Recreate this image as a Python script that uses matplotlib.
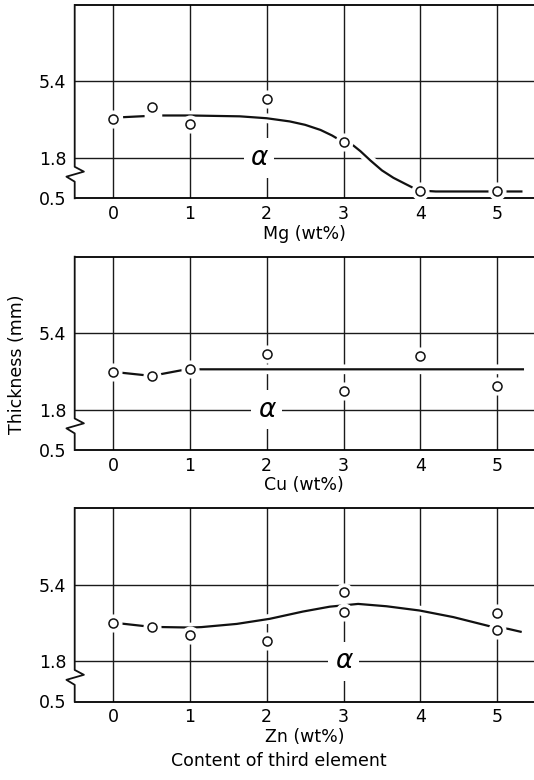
import numpy as np
import matplotlib
matplotlib.use("Agg")
import matplotlib.pyplot as plt
import matplotlib.patheffects as pe

plt.rcParams['font.family'] = ['DejaVu Sans']

# measured thickness (mm) vs. content of third element (wt%)
mg_x = [0, 0.5, 1, 2, 3, 4, 5]
mg_y = [3.63, 4.18, 3.41, 4.59, 2.54, 0.75, 0.73]
cu_x = [0, 0.5, 1, 2, 3, 4, 5]
cu_y = [3.58, 3.39, 3.73, 4.44, 2.67, 4.32, 2.93]
zn_x = [0, 0.5, 1, 2, 3, 3, 5, 5]
zn_y = [3.61, 3.41, 3.04, 2.77, 5.06, 4.10, 4.05, 3.27]

# hand drawn trend curves (nan = pen lifted)
mg_cx = [0.13, 0.41, np.nan, 0.64, 1.0, 1.65, 2.0, 2.3, 2.5, 2.7, 2.85, 3.0,
         3.12, 3.22, 3.35, 3.5, 3.65, 3.8, 3.92, 4.0, 4.2, 5.0, 5.33]
mg_cy = [3.72, 3.77, np.nan, 3.80, 3.80, 3.76, 3.67, 3.52, 3.36, 3.12, 2.86,
         2.54, 2.41, 2.12, 1.72, 1.40, 1.16, 0.97, 0.82, 0.75, 0.72, 0.72,
         0.72]
cu_cx = [0, 0.5, 1.0, 1.14, 5.35]
cu_cy = [3.58, 3.39, 3.73, 3.70, 3.70]
zn_cx = [0, 0.5, 1.0, 1.15, 1.61, 2.04, 2.47, 2.82, 3.19, 3.56, 3.99,
         4.43, 4.86, 5.0, 5.14, 5.32]
zn_cy = [3.61, 3.41, 3.38, 3.40, 3.55, 3.79, 4.13, 4.36, 4.49, 4.38, 4.18,
         3.87, 3.48, 3.35, 3.32, 3.17]

# where the alpha label sits on the 1.8 line
alpha_x = [1.9, 2.0, 3.0]
xlabels = ['Mg (wt%)', 'Cu (wt%)', 'Zn (wt%)']
yticks = [0.5, 1.8, 5.4]
yticklabels = ['0.5', '1.8', '5.4']
xticks = [0, 1, 2, 3, 4, 5]

BREAK = 1.8
K = 1.46  # compression of the broken part below 1.8


def fwd(v):
    v = np.asarray(v, dtype=float)
    return np.where(v >= BREAK, v, BREAK + (v - BREAK) * K)


def inv(t):
    t = np.asarray(t, dtype=float)
    return np.where(t >= BREAK, t, BREAK + (t - BREAK) / K)


fig = plt.figure(figsize=(5.34, 7.8), dpi=100)
W, H = 534, 780
left = 74.7
tops = [5, 256.7, 508]
bottoms = [198.3, 450, 701.5]

panels = [(mg_x, mg_y, mg_cx, mg_cy), (cu_x, cu_y, cu_cx, cu_cy),
          (zn_x, zn_y, zn_cx, zn_cy)]

for i, (px, py, cx, cy) in enumerate(panels):
    ax = fig.add_axes([left / W, 1 - bottoms[i] / H, (W - left) / W,
                       (bottoms[i] - tops[i]) / H])
    ax.set_yscale('function', functions=(fwd, inv))
    ax.set_xlim(-0.5, 5.48)
    ax.set_ylim(0.5, 9.0)

    # grid
    for gx in xticks:
        ax.axvline(gx, color='#1a1a1a', lw=1.0, zorder=1)
    for gy in [1.8, 5.4]:
        ax.axhline(gy, color='#1a1a1a', lw=1.0, zorder=1)

    # curve with white halo so grid is broken where it crosses
    ax.plot(cx, cy, color='#111111', lw=1.6, zorder=2, solid_capstyle='butt',
            path_effects=[pe.withStroke(linewidth=7, foreground='white')])

    # markers with white halo
    ax.plot(px, py, 'o', ms=12, mfc='white', mec='white', zorder=3)
    ax.plot(px, py, 'o', ms=6.5, mfc='white', mec='#111111', mew=1.1, zorder=4)

    ax.text(alpha_x[i], 1.8, '\u03b1', fontsize=19, fontstyle='italic',
            ha='center', va='center', zorder=5,
            bbox=dict(boxstyle='square,pad=0.25', fc='white', ec='none'))

    ax.set_xticks(xticks)
    ax.set_yticks(yticks)
    ax.set_yticklabels(yticklabels)
    ax.tick_params(length=0, labelsize=12.5, pad=6)
    ax.tick_params(axis='x', pad=5)
    ax.set_xlabel(xlabels[i], fontsize=12.5, labelpad=1)

    for s in ['right', 'left']:
        ax.spines[s].set_visible(False)
    ax.spines['top'].set_linewidth(1.3)
    ax.spines['bottom'].set_linewidth(1.3)

    # left spine with the break zigzag
    zx = [0, 0, 0.02, -0.018, 0, 0]
    zy = [1, 0.163, 0.138, 0.112, 0.086, 0]
    ax.plot(zx, zy, color='#111111', lw=1.3, transform=ax.transAxes,
            clip_on=False, zorder=6)

fig.text(17 / W, 1 - 364 / H, 'Thickness (mm)', rotation=90, fontsize=12.5,
         ha='center', va='center')
fig.text(279 / W, 1 - 761 / H, 'Content of third element', fontsize=12.5,
         ha='center', va='center')

fig.savefig('out.png', dpi=100, facecolor='white')
